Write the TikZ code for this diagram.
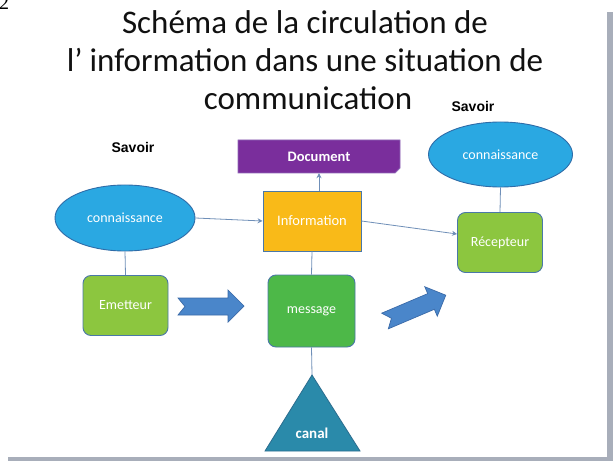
\documentclass[tikz,border=0pt]{standalone}
\usepackage{fontspec}
\usetikzlibrary{shapes.geometric,arrows.meta}
\setmainfont{Carlito}
\newfontfamily\arialf{Liberation Sans}
\newfontfamily\timesf{Liberation Serif}
\begin{document}
\begin{tikzpicture}[x=1pt,y=-1pt,
  conn/.style={draw=lineC, line width=0.8pt},
  connarr/.style={conn, -{Stealth[length=5pt,width=5pt]}},
  ell/.style={ellipse, draw=ellB, line width=0.9pt, fill=ellF, minimum width=140pt, minimum height=66pt, inner sep=0pt, text=white, font=\fontsize{14}{16}\selectfont},
  greenbox/.style={rectangle, rounded corners=8pt, draw=boxB, line width=0.9pt, fill=lgreen, minimum width=85pt, minimum height=60pt, inner sep=0pt, text=white, font=\fontsize{14}{16}\selectfont},
  savoir/.style={font=\arialf\bfseries\fontsize{14}{16}\selectfont, text=black},
  title/.style={font=\fontsize{33}{38}\selectfont, text=titleC, anchor=base, inner sep=0pt},
  blockarrow/.style={fill=arrF, draw=arrB, line width=0.7pt, line join=miter}
]
\definecolor{lineC}{HTML}{6F8FB8}
\definecolor{ellF}{HTML}{2AA8E2}
\definecolor{ellB}{HTML}{2F6CA8}
\definecolor{lgreen}{HTML}{8CC63F}
\definecolor{dgreen}{HTML}{4DB848}
\definecolor{boxB}{HTML}{4A78A8}
\definecolor{yellowF}{HTML}{F9BA18}
\definecolor{purpleF}{HTML}{7A2E9C}
\definecolor{purpleB}{HTML}{9068B8}
\definecolor{tealF}{HTML}{2A8AAA}
\definecolor{tealB}{HTML}{2A6C8E}
\definecolor{arrF}{HTML}{4A86CA}
\definecolor{arrB}{HTML}{3A6AA8}
\definecolor{frameC}{HTML}{A8AEBA}
\definecolor{titleC}{HTML}{111111}
\useasboundingbox (0,0) rectangle (615,462);
\fill[white] (0,0) rectangle (615,462);
% page number, cut at top as in the reference
\node[font=\timesf\fontsize{20}{20}\selectfont, anchor=base west, inner sep=0pt] (pnum) at (-1,10) {2};
% frame
\fill[frameC] (607,12) rectangle (613,461);
\fill[frameC] (8,457) rectangle (613,461);
% title
\node[title] (t1) at (305,34) {Schéma de la circulation de};
\node[title] (t2) at (305,72) {l’\hspace{7pt}information dans une situation de};
\node[title] (t3) at (308,110) {communication};
% savoir labels
\node[savoir] (sav1) at (133,147) {Savoir};
\node[savoir] (sav2) at (473,106) {Savoir};
% document
\draw[fill=purpleF, draw=purpleB, line width=0.8pt] (238,140) -- (400,140) -- (400,168) -- (395,173) -- (238,173) -- cycle;
\node[text=white, font=\bfseries\fontsize{14.5}{16}\selectfont, minimum width=162pt, minimum height=33pt, inner sep=0pt] (doc) at (319,156.5) {Document};
% ellipses
\node[ell] (conL) at (125,218) {connaissance};
\node[ell, minimum width=144pt, minimum height=65pt] (conR) at (500.5,154.5) {connaissance};
% information
\node[rectangle, draw=boxB, line width=0.9pt, fill=yellowF, minimum width=98pt, minimum height=60pt, inner sep=0pt, text=white, font=\fontsize{14.5}{16}\selectfont] (info) at (312,221) {Information};
% green boxes
\node[greenbox] (emet) at (125.5,305.5) {Emetteur};
\node[greenbox] (recep) at (500,242.5) {Récepteur};
\node[greenbox, fill=dgreen, minimum width=87pt, minimum height=72pt] (msg) at (311.5,311) {message};
% canal triangle
\draw[fill=tealF, draw=tealB, line width=0.8pt] (312,375) coordinate (apex) -- (360,451) -- (265,451) -- cycle;
\node[text=white, font=\bfseries\fontsize{15}{16}\selectfont] (canal) at (312,433) {canal};
% connectors
\draw[connarr] (conL.east) -- (info.west);
\draw[connarr] (info.north -| doc.south) -- (doc.south);
\draw[connarr] (info.east) -- (recep.west |- 0,234);
\draw[conn] (conL.south) -- (emet.north);
\draw[conn] (conR.south) -- (recep.north);
\draw[conn] (info.south) -- (msg.north);
\draw[conn] (msg.south) -- (apex);
% block arrows
\draw[blockarrow] (178,298) -- (228,298) -- (228,290) -- (244,306) -- (228,322) -- (228,315) -- (178,315) -- (185,306.5) -- cycle;
\begin{scope}[shift={(385,321)}, rotate=23]
\draw[blockarrow] (0,-8.5) -- (50,-8.5) -- (50,-16) -- (66,0) -- (50,16) -- (50,8.5) -- (0,8.5) -- (7,0) -- cycle;
\end{scope}
\end{tikzpicture}
\end{document}
